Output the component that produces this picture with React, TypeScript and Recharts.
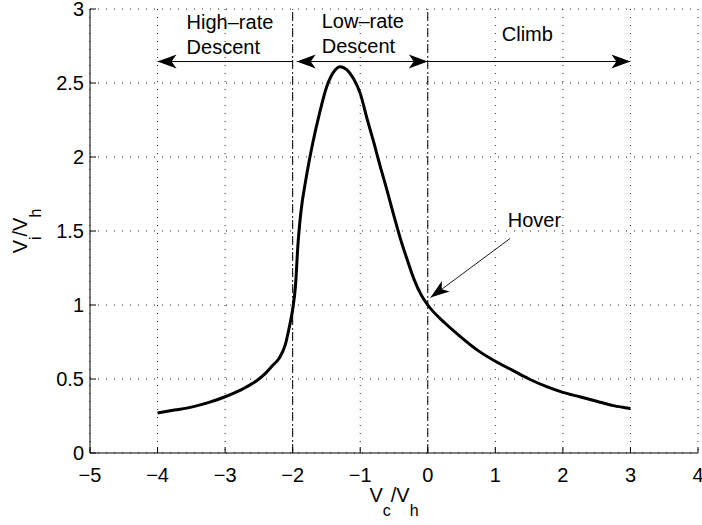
import React from "react";
import {
  ComposedChart,
  Line,
  XAxis,
  YAxis,
  CartesianGrid,
  ReferenceLine,
  ReferenceDot,
} from "recharts";

// climb / descent velocity ratio (x) and induced velocity ratio (y)
const vcRatio = [
  -4, -3.75, -3.5, -3.25, -3, -2.75, -2.5, -2.4, -2.3, -2.2, -2.11,
  -2.05, -2.0, -1.96, -1.92, -1.88, -1.8, -1.7, -1.6, -1.5, -1.4, -1.3,
  -1.2, -1.1, -1.0, -0.9, -0.8, -0.7, -0.6, -0.5, -0.4, -0.3, -0.2, -0.1,
  0, 0.25, 0.5, 0.75, 1, 1.25, 1.5, 1.75, 2, 2.25, 2.5, 2.75, 3,
];
const viRatio = [
  0.27, 0.29, 0.31, 0.34, 0.38, 0.43, 0.5, 0.54, 0.59, 0.64, 0.73,
  0.85, 0.97, 1.12, 1.42, 1.62, 1.86, 2.1, 2.3, 2.47, 2.57, 2.61,
  2.59, 2.53, 2.43, 2.26, 2.1, 1.93, 1.77, 1.6, 1.44, 1.3, 1.17, 1.07,
  1.0, 0.88, 0.78, 0.69, 0.62, 0.56, 0.5, 0.45, 0.41, 0.38, 0.35, 0.32, 0.3,
];

const xTicks = [-5, -4, -3, -2, -1, 0, 1, 2, 3, 4];
const yTicks = [0, 0.5, 1, 1.5, 2, 2.5, 3];

// boundaries between the flight regimes
const regionBounds = [-2, 0];
const arrowLevel = 2.645;
const regionArrows = [
  { from: -2, to: -4, heads: ["end"] },
  { from: -1.94, to: 0, heads: ["start", "end"] },
  { from: 0, to: 3, heads: ["end"] },
];
const regionLabels = [
  { x: -3.57, y: 2.865, lines: ["High\u2013rate", "Descent"] },
  { x: -1.57, y: 2.872, lines: ["Low\u2013rate", "Descent"] },
  { x: 1.095, y: 2.784, lines: ["Climb"] },
];
const hoverLabel = { x: 1.184, y: 1.527, text: "Hover" };
const hoverArrow = { from: { x: 1.22, y: 1.45 }, to: { x: 0.04, y: 1.05 } };

const data = vcRatio.map((vc, i) => ({ vc, vi: viRatio[i] }));

const FONT = '"Liberation Sans", Arial, Helvetica, sans-serif';
const FS = 20;
const TICK = 6;

const fmt = (v: number) => (v < 0 ? "\u2212" + Math.abs(v) : String(v));

const headPoints = (tx: number, ty: number, fx: number, fy: number, len: number, half: number, notch: number) => {
  const dx = tx - fx;
  const dy = ty - fy;
  const d = Math.hypot(dx, dy) || 1;
  const ux = dx / d;
  const uy = dy / d;
  const px = -uy;
  const py = ux;
  const bx = tx - ux * len;
  const by = ty - uy * len;
  const nx = tx - ux * (len - notch);
  const ny = ty - uy * (len - notch);
  return `${tx},${ty} ${bx + px * half},${by + py * half} ${nx},${ny} ${bx - px * half},${by - py * half}`;
};

const arrowShape = (heads: string[], width: number, len: number, half: number) => (props: any) => {
  const { x1, y1, x2, y2 } = props;
  return (
    <g>
      <line x1={x1} y1={y1} x2={x2} y2={y2} stroke="#000" strokeWidth={width} />
      {heads.includes("end") && (
        <polygon points={headPoints(x2, y2, x1, y1, len, half, 5)} fill="#000" />
      )}
      {heads.includes("start") && (
        <polygon points={headPoints(x1, y1, x2, y2, len, half, 5)} fill="#000" />
      )}
    </g>
  );
};

const BottomTick = (props: any) => {
  const { x, y, payload } = props;
  return (
    <g>
      <line x1={x} y1={y - 15} x2={x} y2={y - 15 - TICK} stroke="#000" />
      <text x={x} y={y} dy="0.72em" textAnchor="middle" fontFamily={FONT} fontSize={FS} fill="#000">
        {fmt(payload.value)}
      </text>
    </g>
  );
};

const LeftTick = (props: any) => {
  const { x, y, payload } = props;
  return (
    <g>
      <line x1={x + 6} y1={y} x2={x + 6 + TICK} y2={y} stroke="#000" />
      <text x={x} y={y} dy="0.36em" textAnchor="end" fontFamily={FONT} fontSize={FS} fill="#000">
        {fmt(payload.value)}
      </text>
    </g>
  );
};

const TopTick = (props: any) => {
  const { x, y } = props;
  return <line x1={x} y1={y} x2={x} y2={y + TICK} stroke="#000" />;
};

const RightTick = (props: any) => {
  const { x, y } = props;
  return <line x1={x} y1={y} x2={x - TICK} y2={y} stroke="#000" />;
};

const XTitle = (props: any) => {
  const vb = props.viewBox || { x: 90, y: 453, width: 608, height: 72 };
  return (
    <text x={vb.x + vb.width / 2} y={vb.y + 49} textAnchor="middle" fontFamily={FONT} fontSize={FS} fill="#000">
      V<tspan fontSize={16} dy={14}>c</tspan>
      <tspan dy={-14}>/V</tspan>
      <tspan fontSize={16} dy={14}>h</tspan>
    </text>
  );
};

const YTitle = (props: any) => {
  const vb = props.viewBox || { x: 0, y: 9, width: 90, height: 444 };
  const cy = vb.y + vb.height / 2;
  return (
    <text
      transform={`translate(27, ${cy}) rotate(-90)`}
      textAnchor="middle"
      fontFamily={FONT}
      fontSize={FS}
      fill="#000"
    >
      V<tspan fontSize={16} dy={14}>i</tspan>
      <tspan dy={-14}>/V</tspan>
      <tspan fontSize={16} dy={14}>h</tspan>
    </text>
  );
};

const textShape = (lines: string[]) => (props: any) => {
  const { cx, cy } = props;
  return (
    <text x={cx} y={cy} textAnchor="start" fontFamily={FONT} fontSize={FS} fill="#000">
      {lines.map((l, i) => (
        <tspan key={i} x={cx} dy={i === 0 ? 0 : 25}>
          {l}
        </tspan>
      ))}
    </text>
  );
};

export default function App() {
  return (
    <div style={{ position: "absolute", left: 0, top: 0, background: "#fff" }}>
      <ComposedChart
        width={702}
        height={525}
        data={data}
        margin={{ top: 9, right: 4, left: 0, bottom: 0 }}
      >
        <CartesianGrid stroke="#222" strokeDasharray="1 7" />
        <XAxis
          dataKey="vc"
          type="number"
          domain={[-5, 4]}
          ticks={xTicks}
          height={72}
          tickSize={0}
          tickLine={false}
          tickMargin={15}
          tick={<BottomTick />}
          axisLine={{ stroke: "#000" }}
          interval={0}
          label={XTitle}
        />
        <XAxis
          xAxisId="top"
          orientation="top"
          dataKey="vc"
          type="number"
          domain={[-5, 4]}
          ticks={xTicks}
          height={0}
          tickSize={0}
          tickLine={false}
          tickMargin={0}
          tick={<TopTick />}
          axisLine={{ stroke: "#000" }}
          interval={0}
        />
        <YAxis
          type="number"
          domain={[0, 3]}
          ticks={yTicks}
          width={90}
          tickSize={0}
          tickLine={false}
          tickMargin={6}
          tick={<LeftTick />}
          axisLine={{ stroke: "#000" }}
          interval={0}
          label={YTitle}
        />
        <YAxis
          yAxisId="right"
          orientation="right"
          type="number"
          domain={[0, 3]}
          ticks={yTicks}
          width={0}
          tickSize={0}
          tickLine={false}
          tickMargin={0}
          tick={<RightTick />}
          axisLine={{ stroke: "#000" }}
          interval={0}
        />
        {regionBounds.map((b) => (
          <ReferenceLine key={b} x={b} stroke="#000" strokeWidth={1} strokeDasharray="9 3 1 3" />
        ))}
        {regionArrows.map((a, i) => (
          <ReferenceLine
            key={`arr-${i}`}
            segment={[
              { x: a.from, y: arrowLevel },
              { x: a.to, y: arrowLevel },
            ]}
            shape={arrowShape(a.heads, 1, 19, 7)}
          />
        ))}
        <ReferenceLine
          segment={[hoverArrow.from, hoverArrow.to]}
          shape={arrowShape(["end"], 0.9, 19, 6.5)}
        />
        {regionLabels.map((t, i) => (
          <ReferenceDot key={`lbl-${i}`} x={t.x} y={t.y} r={0} shape={textShape(t.lines)} />
        ))}
        <ReferenceDot x={hoverLabel.x} y={hoverLabel.y} r={0} shape={textShape([hoverLabel.text])} />
        <Line
          dataKey="vi"
          type="monotoneX"
          stroke="#000"
          strokeWidth={3}
          dot={false}
          activeDot={false}
          isAnimationActive={false}
        />
      </ComposedChart>
    </div>
  );
}
